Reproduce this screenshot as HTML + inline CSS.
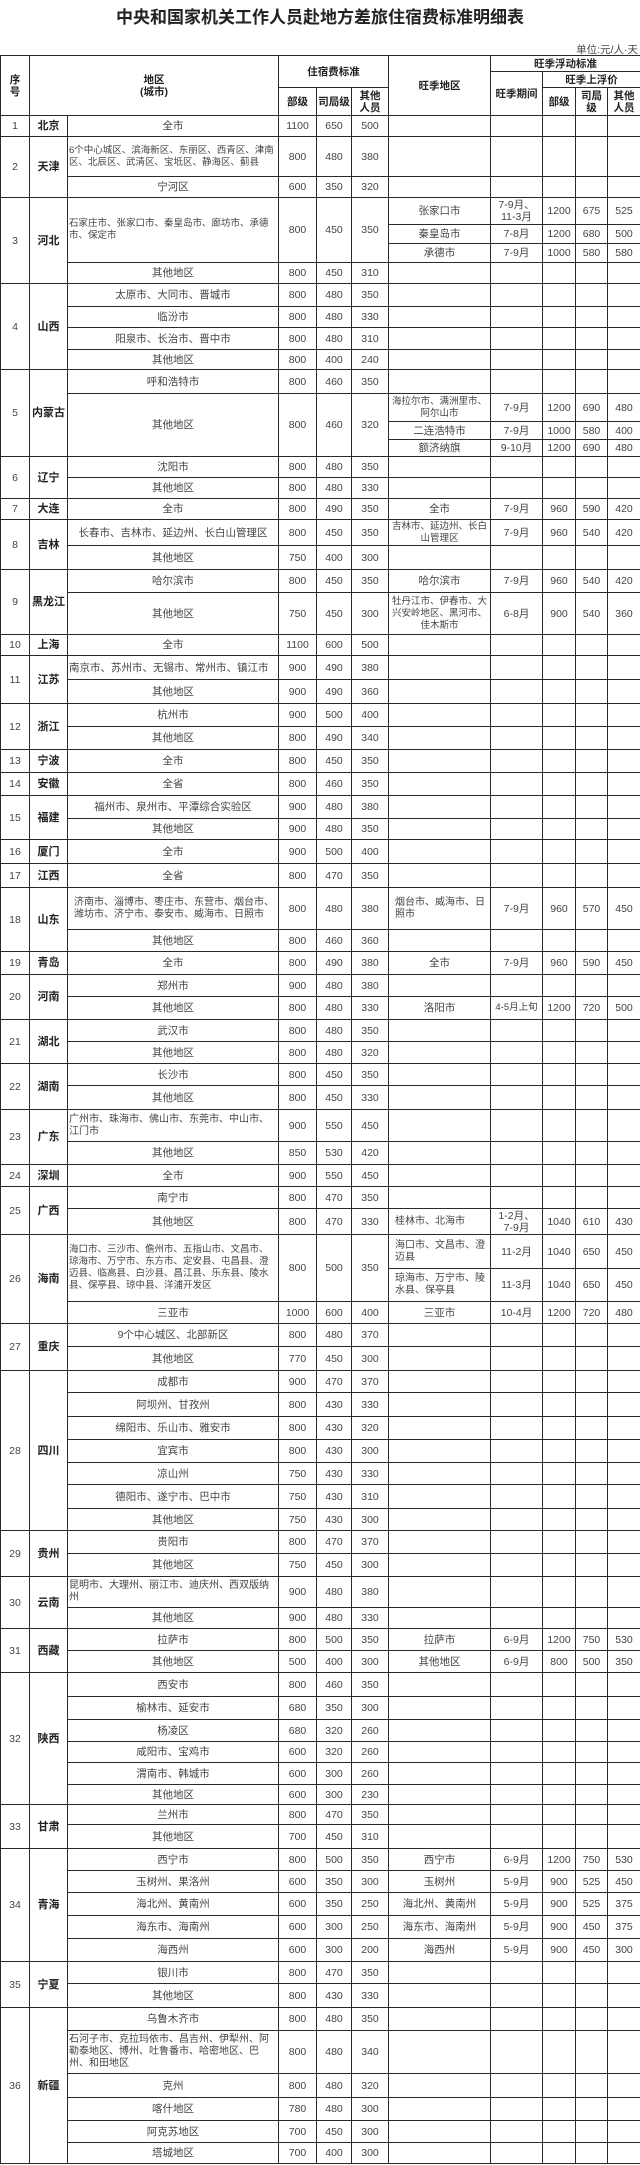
<!DOCTYPE html>
<html><head><meta charset="utf-8">
<style>
html,body{margin:0;padding:0;background:#fff;}
body{width:640px;height:2165px;position:relative;overflow:hidden;font-family:"Liberation Sans","Noto Sans CJK SC",sans-serif;color:#333;}
#title{position:absolute;top:3px;left:0;width:640px;text-align:center;font-size:17px;font-weight:bold;color:#222;font-family:"Liberation Sans","Noto Sans CJK SC",sans-serif;}
#unit{position:absolute;top:42px;right:2px;font-size:10.5px;color:#444;}
table{position:absolute;top:55px;left:0;width:640px;table-layout:fixed;border-collapse:collapse;}
td,th{border:1px solid #2a2a2a;padding:0 1px;text-align:center;vertical-align:middle;font-size:10.5px;line-height:12px;overflow:hidden;font-weight:normal;color:#444;}
th{font-weight:bold;color:#222;font-size:10.5px;}
td.p{font-weight:bold;font-size:11px;color:#222;}
td.l{text-align:left;font-size:9.5px;}
</style></head><body>
<div id="title">中央和国家机关工作人员赴地方差旅住宿费标准明细表</div>
<div id="unit">单位:元/人·天</div>
<table>
<colgroup><col style="width:29px"><col style="width:38px"><col style="width:211px"><col style="width:38px"><col style="width:35px"><col style="width:37px"><col style="width:102px"><col style="width:52px"><col style="width:33px"><col style="width:32px"><col style="width:33px"></colgroup>
<tr style="height:16px"><th rowspan="3">序<br>号</th><th colspan="2" rowspan="3">地区<br>(城市)</th><th colspan="3" rowspan="2">住宿费标准</th><th rowspan="3">旺季地区</th><th colspan="4">旺季浮动标准</th></tr>
<tr style="height:16px"><th rowspan="2">旺季期间</th><th colspan="3">旺季上浮价</th></tr>
<tr style="height:28px"><th>部级</th><th>司局级</th><th>其他<br>人员</th><th>部级</th><th>司局<br>级</th><th>其他<br>人员</th></tr>

<tr style="height:21px"><td>1</td><td class="p">北京</td><td>全市</td><td>1100</td><td>650</td><td>500</td><td></td><td></td><td></td><td></td><td></td></tr>

<tr style="height:40px"><td rowspan="2">2</td><td class="p" rowspan="2">天津</td><td class="l">6个中心城区、滨海新区、东丽区、西青区、津南区、北辰区、武清区、宝坻区、静海区、蓟县</td><td>800</td><td>480</td><td>380</td><td></td><td></td><td></td><td></td><td></td></tr>
<tr style="height:21px"><td>宁河区</td><td>600</td><td>350</td><td>320</td><td></td><td></td><td></td><td></td><td></td></tr>

<tr style="height:27px"><td rowspan="4">3</td><td class="p" rowspan="4">河北</td><td class="l" rowspan="3">石家庄市、张家口市、秦皇岛市、廊坊市、承德市、保定市</td><td rowspan="3">800</td><td rowspan="3">450</td><td rowspan="3">350</td><td>张家口市</td><td>7-9月、<br>11-3月</td><td>1200</td><td>675</td><td>525</td></tr>
<tr style="height:19px"><td>秦皇岛市</td><td>7-8月</td><td>1200</td><td>680</td><td>500</td></tr>
<tr style="height:19px"><td>承德市</td><td>7-9月</td><td>1000</td><td>580</td><td>580</td></tr>
<tr style="height:21px"><td>其他地区</td><td>800</td><td>450</td><td>310</td><td></td><td></td><td></td><td></td><td></td></tr>

<tr style="height:23px"><td rowspan="4">4</td><td class="p" rowspan="4">山西</td><td>太原市、大同市、晋城市</td><td>800</td><td>480</td><td>350</td><td></td><td></td><td></td><td></td><td></td></tr>
<tr style="height:21px"><td>临汾市</td><td>800</td><td>480</td><td>330</td><td></td><td></td><td></td><td></td><td></td></tr>
<tr style="height:22px"><td>阳泉市、长治市、晋中市</td><td>800</td><td>480</td><td>310</td><td></td><td></td><td></td><td></td><td></td></tr>
<tr style="height:20px"><td>其他地区</td><td>800</td><td>400</td><td>240</td><td></td><td></td><td></td><td></td><td></td></tr>

<tr style="height:24px"><td rowspan="4">5</td><td class="p" rowspan="4">内蒙古</td><td>呼和浩特市</td><td>800</td><td>460</td><td>350</td><td></td><td></td><td></td><td></td><td></td></tr>
<tr style="height:28px"><td rowspan="3">其他地区</td><td rowspan="3">800</td><td rowspan="3">460</td><td rowspan="3">320</td><td style="font-size:9.5px">海拉尔市、满洲里市、阿尔山市</td><td>7-9月</td><td>1200</td><td>690</td><td>480</td></tr>
<tr style="height:18px"><td>二连浩特市</td><td>7-9月</td><td>1000</td><td>580</td><td>400</td></tr>
<tr style="height:17px"><td>额济纳旗</td><td>9-10月</td><td>1200</td><td>690</td><td>480</td></tr>

<tr style="height:21px"><td rowspan="2">6</td><td class="p" rowspan="2">辽宁</td><td>沈阳市</td><td>800</td><td>480</td><td>350</td><td></td><td></td><td></td><td></td><td></td></tr>
<tr style="height:21px"><td>其他地区</td><td>800</td><td>480</td><td>330</td><td></td><td></td><td></td><td></td><td></td></tr>

<tr style="height:21px"><td>7</td><td class="p">大连</td><td>全市</td><td>800</td><td>490</td><td>350</td><td>全市</td><td>7-9月</td><td>960</td><td>590</td><td>420</td></tr>

<tr style="height:26px"><td rowspan="2">8</td><td class="p" rowspan="2">吉林</td><td>长春市、吉林市、延边州、长白山管理区</td><td>800</td><td>450</td><td>350</td><td style="font-size:9.5px">吉林市、延边州、长白山管理区</td><td>7-9月</td><td>960</td><td>540</td><td>420</td></tr>
<tr style="height:24px"><td>其他地区</td><td>750</td><td>400</td><td>300</td><td></td><td></td><td></td><td></td><td></td></tr>

<tr style="height:23px"><td rowspan="2">9</td><td class="p" rowspan="2">黑龙江</td><td>哈尔滨市</td><td>800</td><td>450</td><td>350</td><td>哈尔滨市</td><td>7-9月</td><td>960</td><td>540</td><td>420</td></tr>
<tr style="height:42px"><td>其他地区</td><td>750</td><td>450</td><td>300</td><td style="font-size:9.5px">牡丹江市、伊春市、大兴安岭地区、黑河市、佳木斯市</td><td>6-8月</td><td>900</td><td>540</td><td>360</td></tr>

<tr style="height:21px"><td>10</td><td class="p">上海</td><td>全市</td><td>1100</td><td>600</td><td>500</td><td></td><td></td><td></td><td></td><td></td></tr>

<tr style="height:24px"><td rowspan="2">11</td><td class="p" rowspan="2">江苏</td><td class="l" style="font-size:10.5px">南京市、苏州市、无锡市、常州市、镇江市</td><td>900</td><td>490</td><td>380</td><td></td><td></td><td></td><td></td><td></td></tr>
<tr style="height:24px"><td>其他地区</td><td>900</td><td>490</td><td>360</td><td></td><td></td><td></td><td></td><td></td></tr>

<tr style="height:23px"><td rowspan="2">12</td><td class="p" rowspan="2">浙江</td><td>杭州市</td><td>900</td><td>500</td><td>400</td><td></td><td></td><td></td><td></td><td></td></tr>
<tr style="height:23px"><td>其他地区</td><td>800</td><td>490</td><td>340</td><td></td><td></td><td></td><td></td><td></td></tr>

<tr style="height:23px"><td>13</td><td class="p">宁波</td><td>全市</td><td>800</td><td>450</td><td>350</td><td></td><td></td><td></td><td></td><td></td></tr>
<tr style="height:23px"><td>14</td><td class="p">安徽</td><td>全省</td><td>800</td><td>460</td><td>350</td><td></td><td></td><td></td><td></td><td></td></tr>

<tr style="height:23px"><td rowspan="2">15</td><td class="p" rowspan="2">福建</td><td>福州市、泉州市、平潭综合实验区</td><td>900</td><td>480</td><td>380</td><td></td><td></td><td></td><td></td><td></td></tr>
<tr style="height:21px"><td>其他地区</td><td>900</td><td>480</td><td>350</td><td></td><td></td><td></td><td></td><td></td></tr>

<tr style="height:24px"><td>16</td><td class="p">厦门</td><td>全市</td><td>900</td><td>500</td><td>400</td><td></td><td></td><td></td><td></td><td></td></tr>
<tr style="height:24px"><td>17</td><td class="p">江西</td><td>全省</td><td>800</td><td>470</td><td>350</td><td></td><td></td><td></td><td></td><td></td></tr>

<tr style="height:42px"><td rowspan="2">18</td><td class="p" rowspan="2">山东</td><td class="l" style="padding-left:6px;font-size:10px">济南市、淄博市、枣庄市、东营市、烟台市、潍坊市、济宁市、泰安市、威海市、日照市</td><td>800</td><td>480</td><td>380</td><td class="l" style="padding-left:6px;font-size:10px">烟台市、威海市、日照市</td><td>7-9月</td><td>960</td><td>570</td><td>450</td></tr>
<tr style="height:22px"><td>其他地区</td><td>800</td><td>460</td><td>360</td><td></td><td></td><td></td><td></td><td></td></tr>

<tr style="height:23px"><td>19</td><td class="p">青岛</td><td>全市</td><td>800</td><td>490</td><td>380</td><td>全市</td><td>7-9月</td><td>960</td><td>590</td><td>450</td></tr>

<tr style="height:22px"><td rowspan="2">20</td><td class="p" rowspan="2">河南</td><td>郑州市</td><td>900</td><td>480</td><td>380</td><td></td><td></td><td></td><td></td><td></td></tr>
<tr style="height:23px"><td>其他地区</td><td>800</td><td>480</td><td>330</td><td>洛阳市</td><td style="font-size:9.5px">4-5月上旬</td><td>1200</td><td>720</td><td>500</td></tr>

<tr style="height:22px"><td rowspan="2">21</td><td class="p" rowspan="2">湖北</td><td>武汉市</td><td>800</td><td>480</td><td>350</td><td></td><td></td><td></td><td></td><td></td></tr>
<tr style="height:22px"><td>其他地区</td><td>800</td><td>480</td><td>320</td><td></td><td></td><td></td><td></td><td></td></tr>

<tr style="height:22px"><td rowspan="2">22</td><td class="p" rowspan="2">湖南</td><td>长沙市</td><td>800</td><td>450</td><td>350</td><td></td><td></td><td></td><td></td><td></td></tr>
<tr style="height:24px"><td>其他地区</td><td>800</td><td>450</td><td>330</td><td></td><td></td><td></td><td></td><td></td></tr>

<tr style="height:32px"><td rowspan="2">23</td><td class="p" rowspan="2">广东</td><td class="l" style="font-size:10px">广州市、珠海市、佛山市、东莞市、中山市、江门市</td><td>900</td><td>550</td><td>450</td><td></td><td></td><td></td><td></td><td></td></tr>
<tr style="height:23px"><td>其他地区</td><td>850</td><td>530</td><td>420</td><td></td><td></td><td></td><td></td><td></td></tr>

<tr style="height:22px"><td>24</td><td class="p">深圳</td><td>全市</td><td>900</td><td>550</td><td>450</td><td></td><td></td><td></td><td></td><td></td></tr>

<tr style="height:22px"><td rowspan="2">25</td><td class="p" rowspan="2">广西</td><td>南宁市</td><td>800</td><td>470</td><td>350</td><td></td><td></td><td></td><td></td><td></td></tr>
<tr style="height:26px"><td>其他地区</td><td>800</td><td>470</td><td>330</td><td class="l" style="padding-left:6px;font-size:10px">桂林市、北海市</td><td>1-2月、<br>7-9月</td><td>1040</td><td>610</td><td>430</td></tr>

<tr style="height:34px"><td rowspan="3">26</td><td class="p" rowspan="3">海南</td><td class="l" rowspan="2">海口市、三沙市、儋州市、五指山市、文昌市、琼海市、万宁市、东方市、定安县、屯昌县、澄迈县、临高县、白沙县、昌江县、乐东县、陵水县、保亭县、琼中县、洋浦开发区</td><td rowspan="2">800</td><td rowspan="2">500</td><td rowspan="2">350</td><td class="l" style="padding-left:6px;font-size:10px">海口市、文昌市、澄迈县</td><td>11-2月</td><td>1040</td><td>650</td><td>450</td></tr>
<tr style="height:33px"><td class="l" style="padding-left:6px;font-size:10px">琼海市、万宁市、陵水县、保亭县</td><td>11-3月</td><td>1040</td><td>650</td><td>450</td></tr>
<tr style="height:22px"><td>三亚市</td><td>1000</td><td>600</td><td>400</td><td>三亚市</td><td>10-4月</td><td>1200</td><td>720</td><td>480</td></tr>

<tr style="height:23px"><td rowspan="2">27</td><td class="p" rowspan="2">重庆</td><td>9个中心城区、北部新区</td><td>800</td><td>480</td><td>370</td><td></td><td></td><td></td><td></td><td></td></tr>
<tr style="height:24px"><td>其他地区</td><td>770</td><td>450</td><td>300</td><td></td><td></td><td></td><td></td><td></td></tr>

<tr style="height:22px"><td rowspan="7">28</td><td class="p" rowspan="7">四川</td><td>成都市</td><td>900</td><td>470</td><td>370</td><td></td><td></td><td></td><td></td><td></td></tr>
<tr style="height:24px"><td>阿坝州、甘孜州</td><td>800</td><td>430</td><td>330</td><td></td><td></td><td></td><td></td><td></td></tr>
<tr style="height:23px"><td>绵阳市、乐山市、雅安市</td><td>800</td><td>430</td><td>320</td><td></td><td></td><td></td><td></td><td></td></tr>
<tr style="height:23px"><td>宜宾市</td><td>800</td><td>430</td><td>300</td><td></td><td></td><td></td><td></td><td></td></tr>
<tr style="height:22px"><td>凉山州</td><td>750</td><td>430</td><td>330</td><td></td><td></td><td></td><td></td><td></td></tr>
<tr style="height:24px"><td>德阳市、遂宁市、巴中市</td><td>750</td><td>430</td><td>310</td><td></td><td></td><td></td><td></td><td></td></tr>
<tr style="height:22px"><td>其他地区</td><td>750</td><td>430</td><td>300</td><td></td><td></td><td></td><td></td><td></td></tr>

<tr style="height:23px"><td rowspan="2">29</td><td class="p" rowspan="2">贵州</td><td>贵阳市</td><td>800</td><td>470</td><td>370</td><td></td><td></td><td></td><td></td><td></td></tr>
<tr style="height:23px"><td>其他地区</td><td>750</td><td>450</td><td>300</td><td></td><td></td><td></td><td></td><td></td></tr>

<tr style="height:31px"><td rowspan="2">30</td><td class="p" rowspan="2">云南</td><td class="l" style="font-size:10px">昆明市、大理州、丽江市、迪庆州、西双版纳州</td><td>900</td><td>480</td><td>380</td><td></td><td></td><td></td><td></td><td></td></tr>
<tr style="height:21px"><td>其他地区</td><td>900</td><td>480</td><td>330</td><td></td><td></td><td></td><td></td><td></td></tr>

<tr style="height:22px"><td rowspan="2">31</td><td class="p" rowspan="2">西藏</td><td>拉萨市</td><td>800</td><td>500</td><td>350</td><td>拉萨市</td><td>6-9月</td><td>1200</td><td>750</td><td>530</td></tr>
<tr style="height:22px"><td>其他地区</td><td>500</td><td>400</td><td>300</td><td>其他地区</td><td>6-9月</td><td>800</td><td>500</td><td>350</td></tr>

<tr style="height:24px"><td rowspan="6">32</td><td class="p" rowspan="6">陕西</td><td>西安市</td><td>800</td><td>460</td><td>350</td><td></td><td></td><td></td><td></td><td></td></tr>
<tr style="height:23px"><td>榆林市、延安市</td><td>680</td><td>350</td><td>300</td><td></td><td></td><td></td><td></td><td></td></tr>
<tr style="height:22px"><td>杨凌区</td><td>680</td><td>320</td><td>260</td><td></td><td></td><td></td><td></td><td></td></tr>
<tr style="height:21px"><td>咸阳市、宝鸡市</td><td>600</td><td>320</td><td>260</td><td></td><td></td><td></td><td></td><td></td></tr>
<tr style="height:22px"><td>渭南市、韩城市</td><td>600</td><td>300</td><td>260</td><td></td><td></td><td></td><td></td><td></td></tr>
<tr style="height:20px"><td>其他地区</td><td>600</td><td>300</td><td>230</td><td></td><td></td><td></td><td></td><td></td></tr>

<tr style="height:20px"><td rowspan="2">33</td><td class="p" rowspan="2">甘肃</td><td>兰州市</td><td>800</td><td>470</td><td>350</td><td></td><td></td><td></td><td></td><td></td></tr>
<tr style="height:24px"><td>其他地区</td><td>700</td><td>450</td><td>310</td><td></td><td></td><td></td><td></td><td></td></tr>

<tr style="height:22px"><td rowspan="5">34</td><td class="p" rowspan="5">青海</td><td>西宁市</td><td>800</td><td>500</td><td>350</td><td>西宁市</td><td>6-9月</td><td>1200</td><td>750</td><td>530</td></tr>
<tr style="height:22px"><td>玉树州、果洛州</td><td>600</td><td>350</td><td>300</td><td>玉树州</td><td>5-9月</td><td>900</td><td>525</td><td>450</td></tr>
<tr style="height:23px"><td>海北州、黄南州</td><td>600</td><td>350</td><td>250</td><td>海北州、黄南州</td><td>5-9月</td><td>900</td><td>525</td><td>375</td></tr>
<tr style="height:23px"><td>海东市、海南州</td><td>600</td><td>300</td><td>250</td><td>海东市、海南州</td><td>5-9月</td><td>900</td><td>450</td><td>375</td></tr>
<tr style="height:23px"><td>海西州</td><td>600</td><td>300</td><td>200</td><td>海西州</td><td>5-9月</td><td>900</td><td>450</td><td>300</td></tr>

<tr style="height:22px"><td rowspan="2">35</td><td class="p" rowspan="2">宁夏</td><td>银川市</td><td>800</td><td>470</td><td>350</td><td></td><td></td><td></td><td></td><td></td></tr>
<tr style="height:24px"><td>其他地区</td><td>800</td><td>430</td><td>330</td><td></td><td></td><td></td><td></td><td></td></tr>

<tr style="height:23px"><td rowspan="6">36</td><td class="p" rowspan="6">新疆</td><td>乌鲁木齐市</td><td>800</td><td>480</td><td>350</td><td></td><td></td><td></td><td></td><td></td></tr>
<tr style="height:43px"><td class="l" style="font-size:10px">石河子市、克拉玛依市、昌吉州、伊犁州、阿勒泰地区、博州、吐鲁番市、哈密地区、巴州、和田地区</td><td>800</td><td>480</td><td>340</td><td></td><td></td><td></td><td></td><td></td></tr>
<tr style="height:24px"><td>克州</td><td>800</td><td>480</td><td>320</td><td></td><td></td><td></td><td></td><td></td></tr>
<tr style="height:23px"><td>喀什地区</td><td>780</td><td>480</td><td>300</td><td></td><td></td><td></td><td></td><td></td></tr>
<tr style="height:22px"><td>阿克苏地区</td><td>700</td><td>450</td><td>300</td><td></td><td></td><td></td><td></td><td></td></tr>
<tr style="height:21px"><td>塔城地区</td><td>700</td><td>400</td><td>300</td><td></td><td></td><td></td><td></td><td></td></tr>
</table>
</body></html>
